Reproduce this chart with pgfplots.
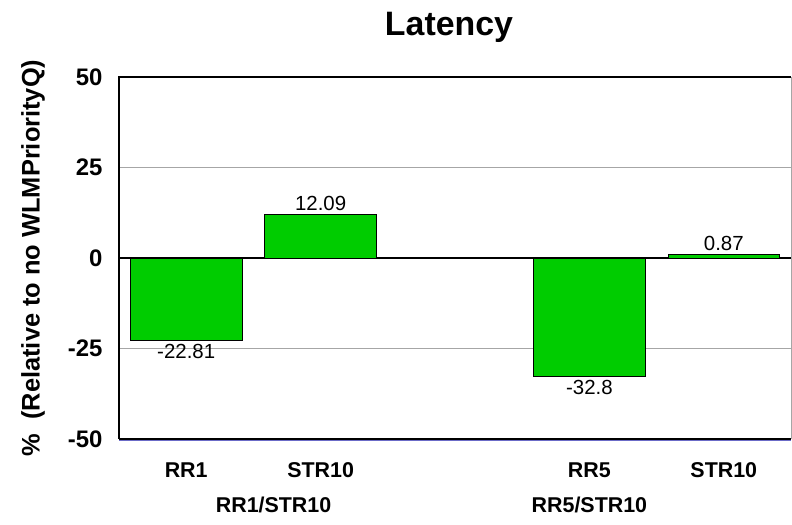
\documentclass[border=0pt]{standalone}
\usepackage{fontspec}
\setmainfont{Liberation Sans}
\usepackage{pgfplots}
\pgfplotsset{compat=1.18}
\definecolor{bargreen}{RGB}{0,204,0}
\begin{document}
\begin{tikzpicture}
\begin{axis}[
  scale only axis, width=672bp, height=362bp,
  xmin=-0.5, xmax=4.5, ymin=-50, ymax=50,
  clip=false,
  ybar, bar width=0.83,
  axis line style={draw=none},
  ytick={-50,-25,0,25,50},
  xtick={0,1,3,4}, xticklabels={RR1,STR10,RR5,STR10},
  major tick length=0pt,
  ymajorgrids, grid style={gray!70, line width=0.7pt},
  extra y ticks={0}, extra y tick labels={},
  extra y tick style={grid style={black, line width=1.3pt}},
  /pgf/number format/assume math mode=true,
  yticklabel style={font=\fontsize{24}{28}\selectfont\bfseries, xshift=-13bp},
  xticklabel style={font=\fontsize{21.5}{25}\selectfont\bfseries, anchor=base, yshift=-38bp},
  title={Latency},
  every axis title/.style={font=\fontsize{34}{40}\selectfont\bfseries, at={([xshift=-6bp,yshift=41bp]axis description cs:0.5,1)}, anchor=base},
  ylabel={\%\ \ (Relative to no WLMPriorityQ)},
  every axis y label/.style={at={([xshift=-86bp]axis description cs:0,0.5)}, rotate=90, anchor=center, font=\fontsize{25.5}{30}\selectfont\bfseries},
  nodes near coords,
  nodes near coords align={vertical},
  every node near coord/.append style={font=\fontsize{20.5}{24}\selectfont, black},
  point meta=y,
  /pgf/number format/.cd, fixed, precision=2,
]
\addplot[fill=bargreen, draw=black, line width=0.8pt] coordinates {
  (0,-22.81)
  (1,12.09)
  (3,-32.8)
  (4,0.87)
};
\draw[black, line width=1.2pt] (rel axis cs:0,0) -- (rel axis cs:0,1) -- (rel axis cs:1,1);
\draw[gray!70, line width=1pt] (rel axis cs:1,1) -- (rel axis cs:1,0);
\draw[blue!45!gray!80, line width=1.2pt] ([yshift=-1.8bp]rel axis cs:0,0) -- ([yshift=-1.8bp]rel axis cs:1,0);
\draw[black, line width=1.2pt] (rel axis cs:0,0) -- (rel axis cs:1,0);
\node[anchor=base, font=\fontsize{21.5}{25}\selectfont\bfseries, yshift=-73bp] at (axis cs:0.65,-50) {RR1/STR10};
\node[anchor=base, font=\fontsize{21.5}{25}\selectfont\bfseries, yshift=-73bp] at (axis cs:3,-50) {RR5/STR10};
\coordinate (sw) at (rel axis cs:0,0);
\coordinate (ne) at (rel axis cs:1,1);
\end{axis}
\pgfresetboundingbox
\path ([xshift=-119bp,yshift=-85bp]sw) rectangle ([xshift=1bp,yshift=77bp]ne);
\end{tikzpicture}
\end{document}
